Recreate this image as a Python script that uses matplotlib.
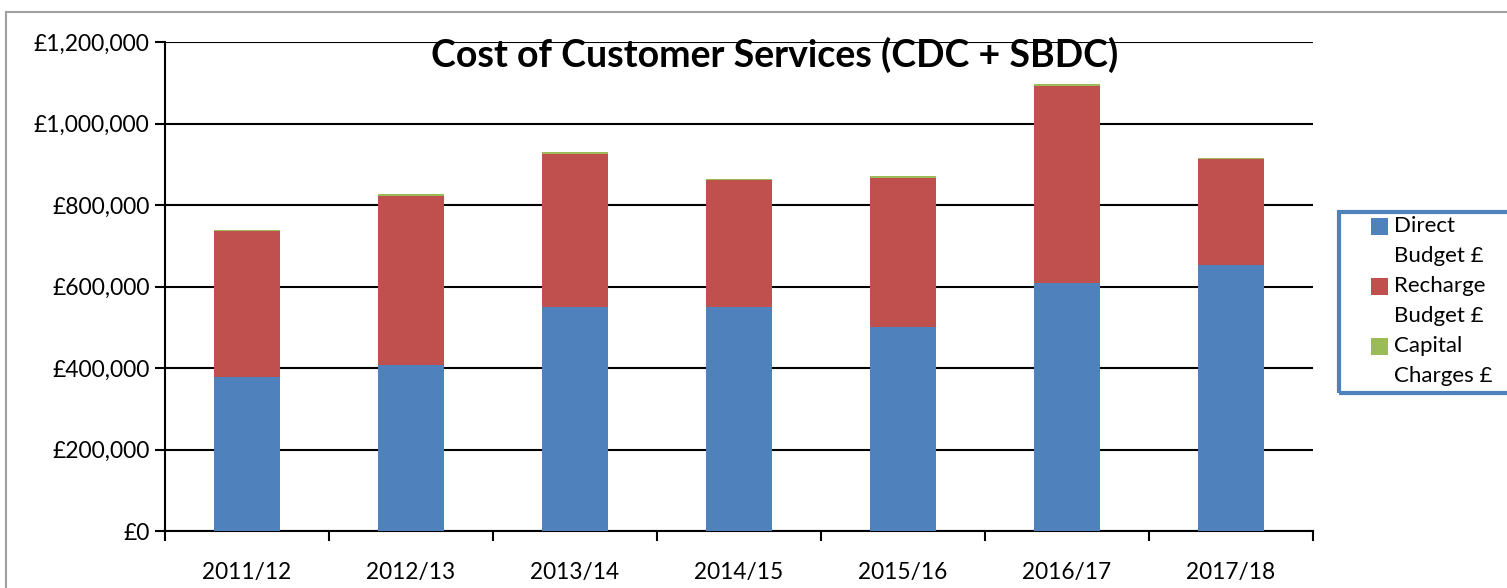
import matplotlib.pyplot as plt
import numpy as np
from matplotlib.patches import Rectangle
from matplotlib.ticker import FuncFormatter

years = ["2011/12", "2012/13", "2013/14", "2014/15", "2015/16", "2016/17", "2017/18"]
direct = [378000, 407000, 550000, 550000, 500000, 609000, 653000]
recharge = [357000, 416000, 376000, 312000, 367000, 484000, 259000]
capital = [3000, 3000, 3000, 3000, 3000, 3000, 3000]
series_names = ["Direct\nBudget £", "Recharge\nBudget £", "Capital\nCharges £"]

blue = "#4f81bd"
red = "#c0504d"
green = "#9bbb59"

plt.rcParams["font.family"] = ["Lato", "DejaVu Sans"]

fig = plt.figure(figsize=(15.07, 5.88), dpi=100)
ax = fig.add_axes([165 / 1507, 57 / 588, 1148 / 1507, 489 / 588])

x = np.arange(len(years))
w = 0.4
direct = np.array(direct)
recharge = np.array(recharge)
capital = np.array(capital)
b1 = ax.bar(x, direct, w, color=blue, zorder=3)
b2 = ax.bar(x, recharge, w, bottom=direct, color=red, zorder=3)
b3 = ax.bar(x, capital, w, bottom=direct + recharge, color=green, zorder=3)

ax.set_xlim(-0.5, len(years) - 0.5)
ax.set_ylim(0, 1200000)
ax.set_yticks(np.arange(0, 1200001, 200000))
ax.yaxis.set_major_formatter(FuncFormatter(lambda v, p: "£{:,.0f}".format(v)))
ax.grid(axis="y", color="black", linewidth=1.5, zorder=0)

ax.set_xticks(x)
ax.set_xticklabels(years)
ax.set_xticks(np.arange(-0.5, len(years)), minor=True)
ax.tick_params(axis="x", which="major", length=0, pad=22, labelsize=16.3)
ax.tick_params(axis="x", which="minor", length=7, width=1.5, direction="out")
ax.tick_params(axis="y", length=7, width=1.5, labelsize=16.5, pad=4)

for s in ["top", "right"]:
    ax.spines[s].set_visible(False)
ax.spines["left"].set_linewidth(1.5)
ax.spines["bottom"].set_linewidth(1.5)

fig.text(775 / 1507, 1 - 55 / 588, "Cost of Customer Services (CDC + SBDC)",
         ha="center", va="center", fontsize=27, fontweight="bold")

# outer chart border
fig.patches.append(Rectangle((6 / 1507, -0.1), 1.2, 1.1 - 12 / 588,
                             transform=fig.transFigure, fill=False,
                             edgecolor="#a0a0a0", linewidth=1.5))

# legend, Excel style: swatch beside first line of wrapped label
W, H = 1507, 588
for i, (name, bars) in enumerate(zip(series_names, [b1, b2, b3])):
    top = 218 + 60 * i
    fig.patches.append(Rectangle((1371 / W, 1 - (top + 17) / H), 17 / W, 17 / H,
                                 transform=fig.transFigure,
                                 facecolor=bars.patches[0].get_facecolor(),
                                 edgecolor="none"))
    for j, line in enumerate(name.split("\n")):
        fig.text(1394 / W, 1 - (226 + 60 * i + 30 * j) / H, line,
                 ha="left", va="center", fontsize=16)
fig.patches.append(Rectangle((1339 / W, 1 - 393 / H), 0.2, 181 / H,
                             transform=fig.transFigure, fill=False,
                             edgecolor=blue, linewidth=3))

fig.savefig("out.png", dpi=100)
